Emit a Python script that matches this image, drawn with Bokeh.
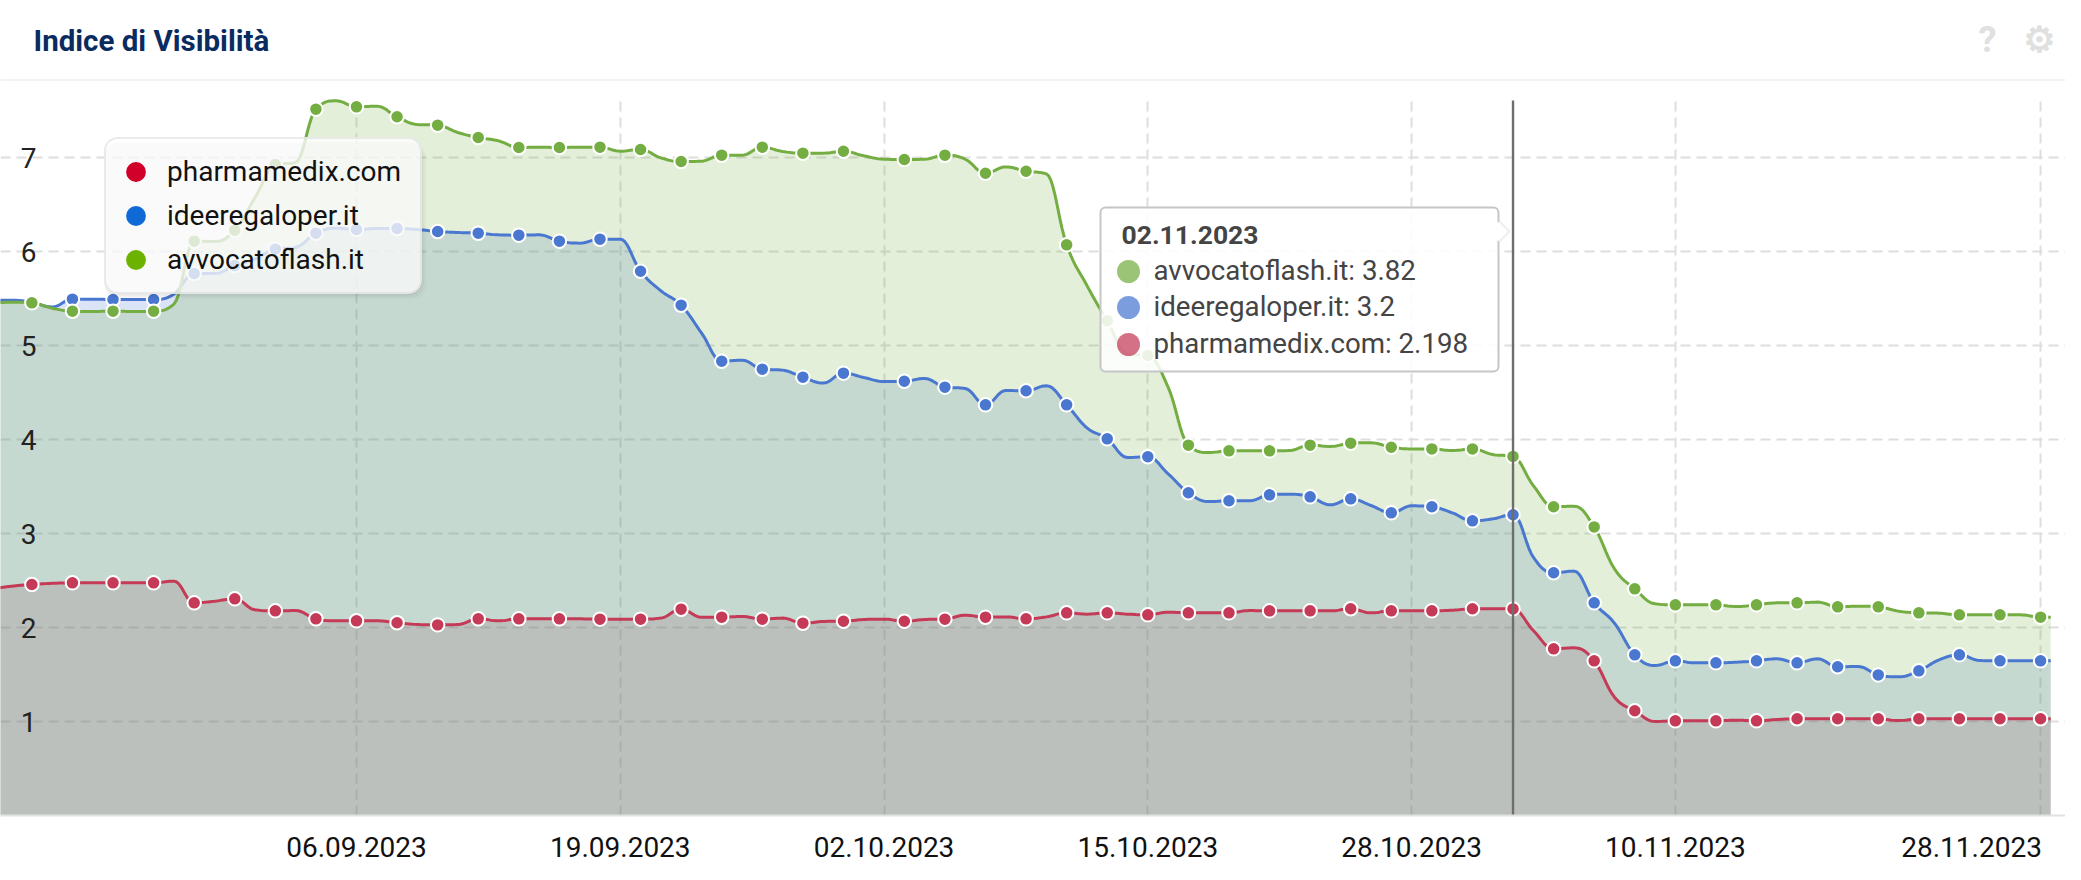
from datetime import datetime, timezone
from bokeh.plotting import figure
from bokeh.models import (BoxAnnotation, ColumnDataSource, DatetimeTickFormatter, FixedTicker, Label,
                          Legend, LegendItem, PolyAnnotation)
from bokeh.embed import file_html
from bokeh.resources import INLINE

# points that carry a marker
dates = ["19.08.2023","21.08.2023","23.08.2023","25.08.2023","27.08.2023","29.08.2023","31.08.2023",
         "02.09.2023","04.09.2023","06.09.2023","08.09.2023","10.09.2023","12.09.2023","14.09.2023","16.09.2023",
         "18.09.2023","20.09.2023","22.09.2023","24.09.2023","26.09.2023","28.09.2023","30.09.2023",
         "03.10.2023","05.10.2023","07.10.2023","09.10.2023","11.10.2023","13.10.2023","15.10.2023","17.10.2023",
         "19.10.2023","21.10.2023","23.10.2023","25.10.2023","27.10.2023","29.10.2023","31.10.2023",
         "02.11.2023","04.11.2023","06.11.2023","08.11.2023","10.11.2023","12.11.2023","14.11.2023","16.11.2023",
         "18.11.2023","20.11.2023","22.11.2023","24.11.2023","26.11.2023","28.11.2023","30.11.2023"]
avvocatoflash = [5.45,5.454,5.365,5.365,5.365,6.11,6.227,
                 6.925,7.514,7.539,7.433,7.344,7.213,7.106,7.106,7.11,7.085,6.957,7.025,7.11,7.046,7.067,
                 6.979,7.025,6.833,6.854,6.071,5.262,4.894,3.94,3.879,3.879,3.94,3.961,3.918,3.90,3.90,
                 3.82,3.284,3.07,2.411,2.241,2.241,2.241,2.262,2.22,2.22,2.156,2.135,2.135,2.11,2.10]
ideeregaloper = [5.48,5.46,5.493,5.489,5.489,5.766,5.85,
                 6.025,6.195,6.234,6.245,6.213,6.195,6.174,6.11,6.131,5.79,5.429,4.833,4.748,4.663,4.706,
                 4.62,4.557,4.369,4.518,4.369,4.007,3.816,3.433,3.348,3.411,3.39,3.369,3.22,3.284,3.135,
                 3.2,2.582,2.262,1.709,1.645,1.624,1.645,1.624,1.582,1.496,1.539,1.709,1.645,1.645,1.645]
pharmamedix = [2.41,2.457,2.475,2.475,2.475,2.262,2.305,
               2.177,2.092,2.071,2.05,2.028,2.092,2.092,2.092,2.089,2.089,2.195,2.11,2.089,2.046,2.067,
               2.067,2.089,2.11,2.092,2.156,2.156,2.135,2.156,2.156,2.177,2.177,2.199,2.177,2.177,2.199,
               2.198,1.773,1.645,1.114,1.007,1.007,1.007,1.029,1.029,1.029,1.029,1.029,1.029,1.029,1.029]
# points of the lines without a marker
between_dates = ["20.08.2023","22.08.2023","24.08.2023","26.08.2023","28.08.2023","30.08.2023",
                 "01.09.2023","03.09.2023","05.09.2023","07.09.2023","09.09.2023","11.09.2023","13.09.2023","15.09.2023",
                 "17.09.2023","19.09.2023","21.09.2023","23.09.2023","25.09.2023","27.09.2023","29.09.2023",
                 "01.10.2023","02.10.2023","04.10.2023","06.10.2023","08.10.2023","10.10.2023","12.10.2023","14.10.2023",
                 "16.10.2023","18.10.2023","20.10.2023","22.10.2023","24.10.2023","26.10.2023","28.10.2023","30.10.2023",
                 "01.11.2023","03.11.2023","05.11.2023","07.11.2023","09.11.2023","11.11.2023","13.11.2023","15.11.2023",
                 "17.11.2023","19.11.2023","21.11.2023","23.11.2023","25.11.2023","27.11.2023","29.11.2023"]
avvocatoflash_between = [5.461,5.397,5.362,5.362,5.44,6.106,
                         6.574,6.947,7.603,7.546,7.351,7.266,7.177,7.11,7.11,7.067,6.996,6.961,7.025,7.064,7.046,
                         7.018,6.982,6.982,6.982,6.90,6.826,5.638,4.91,4.557,3.862,3.879,3.883,3.926,3.965,3.90,3.883,
                         3.84,3.51,3.291,2.624,2.252,2.241,2.223,2.262,2.27,2.227,2.174,2.152,2.135,2.135,2.11]
ideeregaloper_between = [5.482,5.41,5.493,5.489,5.546,5.766,
                         5.92,6.043,6.248,6.245,6.234,6.202,6.177,6.177,6.089,6.131,5.582,5.135,4.844,4.738,4.60,
                         4.66,4.617,4.649,4.543,4.521,4.571,4.124,3.809,3.635,3.34,3.348,3.418,3.305,3.298,3.294,3.22,
                         3.156,2.748,2.60,2.046,1.596,1.624,1.631,1.667,1.667,1.585,1.475,1.656,1.649,1.645,1.645]
pharmamedix_between = [2.44,2.47,2.475,2.475,2.493,2.28,
                       2.188,2.18,2.071,2.071,2.032,2.032,2.071,2.092,2.092,2.089,2.10,2.11,2.117,2.10,2.064,
                       2.085,2.089,2.085,2.131,2.113,2.113,2.142,2.142,2.163,2.156,2.18,2.177,2.177,2.156,2.177,2.184,
                       2.20,1.968,1.784,1.259,1.0,1.007,1.014,1.021,1.029,1.029,1.01,1.029,1.029,1.029,1.029]
series_names = ["pharmamedix.com", "ideeregaloper.it", "avvocatoflash.it"]
tick_dates = ["06.09.2023","19.09.2023","02.10.2023","15.10.2023","28.10.2023","10.11.2023","28.11.2023"]
y_ticks = [1,2,3,4,5,6,7]
hover_date = "02.11.2023"
hover_rows = [("avvocatoflash.it", "3.82"), ("ideeregaloper.it", "3.2"), ("pharmamedix.com", "2.198")]

DAY = 86400000.0
def ms(s):
    return datetime.strptime(s, "%d.%m.%Y").replace(tzinfo=timezone.utc).timestamp() * 1000.0

PX_PER_DAY = 20.29
T0, PX0 = ms("06.09.2023"), 356.0
FRAME_L, FRAME_R, FRAME_T, FRAME_B = 0.0, 2065.0, 0.0, 815.0
PX_PER_UNIT = 94.0
def X(px): return T0 + (px - PX0) / PX_PER_DAY * DAY
def Y(py): return (FRAME_B - py) / PX_PER_UNIT

def spline(xs, ys, xmax, n=10):
    """Spline through the read points, ending at xmax."""
    sm, den = 1.5, 2.5
    m = len(xs)
    lc, rc = [None]*m, [None]*m
    for i in range(1, m-1):
        x, y, x0, y0, x1, y1 = xs[i], ys[i], xs[i-1], ys[i-1], xs[i+1], ys[i+1]
        lx, ly = (sm*x+x0)/den, (sm*y+y0)/den
        rx, ry = (sm*x+x1)/den, (sm*y+y1)/den
        c = (ry-ly)*(rx-x)/(rx-lx)+y-ry
        ly += c; ry += c
        if ly > y0 and ly > y: ly = max(y0, y); ry = 2*y-ly
        elif ly < y0 and ly < y: ly = min(y0, y); ry = 2*y-ly
        if ry > y1 and ry > y: ry = max(y1, y); ly = 2*y-ry
        elif ry < y1 and ry < y: ry = min(y1, y); ly = 2*y-ry
        lc[i], rc[i] = (lx, ly), (rx, ry)
    ox, oy = [], []
    for i in range(m-1):
        p0 = (xs[i], ys[i]); p3 = (xs[i+1], ys[i+1])
        p1 = rc[i] or p0; p2 = lc[i+1] or p3
        for k in range(n):
            t = k/n; u = 1-t
            bx = u**3*p0[0]+3*u*u*t*p1[0]+3*u*t*t*p2[0]+t**3*p3[0]
            by = u**3*p0[1]+3*u*u*t*p1[1]+3*u*t*t*p2[1]+t**3*p3[1]
            if bx <= xmax:
                ox.append(bx); oy.append(by)
    return ox, oy

p = figure(width=2065, height=864, output_backend="svg", toolbar_location=None,
           x_axis_type="datetime", x_range=(X(FRAME_L), X(FRAME_R)), y_range=(Y(FRAME_B), Y(FRAME_T)),
           min_border_left=0, min_border_right=0, min_border_top=0, min_border_bottom=49,
           outline_line_color=None, background_fill_color="white", border_fill_color="white")

tick_ms = [ms(d) for d in tick_dates]
# the last label sits left of its gridline so that it stays on the page
label_ms = tick_ms[:-1] + [tick_ms[-1] - 3.4*DAY]
ax = p.xaxis[0]
ax.ticker = FixedTicker(ticks=label_ms)
ax.formatter = DatetimeTickFormatter(days="%d.%m.%Y", months="%d.%m.%Y", years="%d.%m.%Y", hours="%d.%m.%Y",
                                     hourmin="%d.%m.%Y", minutes="%d.%m.%Y", minsec="%d.%m.%Y", seconds="%d.%m.%Y",
                                     milliseconds="%d.%m.%Y", microseconds="%d.%m.%Y")
ax.major_label_overrides = {int(label_ms[-1]): tick_dates[-1]}
ax.major_tick_line_color = None
ax.minor_tick_line_color = None
ax.axis_line_color = "#e2e2e2"
ax.axis_line_width = 2
ax.major_label_text_font = "Roboto"
ax.major_label_text_font_size = "28px"
ax.major_label_text_color = "#111111"
ax.major_label_standoff = 15

ay = p.yaxis[0]
ay.ticker = FixedTicker(ticks=y_ticks)
ay.major_tick_line_color = None
ay.minor_tick_line_color = None
ay.axis_line_color = None
ay.major_label_text_font = "Roboto"
ay.major_label_text_font_size = "28px"
ay.major_label_text_color = "#222222"
ay.major_label_standoff = -42

p.xgrid.ticker = FixedTicker(ticks=tick_ms)
p.ygrid.ticker = FixedTicker(ticks=y_ticks)
for g in (p.xgrid, p.ygrid):
    g.grid_line_color = "#dedede"
    g.grid_line_width = 2
    g.grid_line_dash = "10 6"

def box(l, r, t, b, **kw):
    return BoxAnnotation(left=X(l), right=X(r), top=Y(t), bottom=Y(b), **kw)

# header band: keeps the vertical gridlines below it
p.add_layout(box(0, 2065, 0, 99.5, fill_color="white", fill_alpha=1, line_color=None, level="underlay"))

xs_ms = [ms(d) for d in dates]
x_end = X(2052)
colors = {"pharmamedix.com": "#c43a57", "ideeregaloper.it": "#4a77d0", "avvocatoflash.it": "#74ad42"}
fills = {"pharmamedix.com": "#b0405a", "ideeregaloper.it": "#4a77d0", "avvocatoflash.it": "#74ad42"}
values = {"pharmamedix.com": pharmamedix, "ideeregaloper.it": ideeregaloper, "avvocatoflash.it": avvocatoflash}
between = {"pharmamedix.com": pharmamedix_between, "ideeregaloper.it": ideeregaloper_between,
           "avvocatoflash.it": avvocatoflash_between}
curves = {}
for name in series_names:
    knots = sorted(list(zip(xs_ms, values[name])) + list(zip([ms(d) for d in between_dates], between[name])))
    curves[name] = spline([k[0] for k in knots], [k[1] for k in knots], x_end)
for name in series_names:
    sx, sy = curves[name]
    src = ColumnDataSource(dict(x=sx, y=sy, z=[0]*len(sx)))
    p.varea(x="x", y1="z", y2="y", source=src, fill_color=fills[name], fill_alpha=0.2)
for name in series_names:
    c = colors[name]
    sx, sy = curves[name]
    p.line(sx, sy, line_color=c, line_width=3)
    p.scatter(xs_ms, values[name], size=13.5, fill_color=c, line_color="white", line_width=2)

p.segment([ms(hover_date)], [0], [ms(hover_date)], [Y(100)], line_color="#6e6e6e", line_width=2.4, level="guide")

p.add_layout(box(0, 2065, 78.5, 80.5, fill_color="#f2f2f2", fill_alpha=1, line_color=None))

def label(px, py, text, size, color, font="Roboto", style="normal", align="left", level="annotation", **kw):
    return Label(x=X(px), y=Y(py), text=text, text_font=font, text_font_size=size, text_color=color,
                 text_font_style=style, text_align=align, text_baseline="middle", level=level, **kw)

p.add_layout(label(33, 40, "Indice di Visibilità", "29.5px", "#0a2b5f", style="bold"))
p.add_layout(label(1987, 39, "?", "36px", "#e0e0e0", style="bold", align="center"))
p.add_layout(label(2039, 39, "\u2699", "36px", "#e0e0e0", font="DejaVu Sans", align="center",
                   text_outline_color="#e0e0e0"))

# legend with its own colours; its marker renderers sit left of the visible range
legend_colors = {"pharmamedix.com": "#d0002a", "ideeregaloper.it": "#0f69d6", "avvocatoflash.it": "#6bb300"}
items = []
for name in series_names:
    r = p.scatter([X(-200)], [1], size=16, fill_color=legend_colors[name], line_color=legend_colors[name], line_width=5)
    items.append(LegendItem(label=name, renderers=[r]))
for off, a in ((6, 0.02), (4, 0.03), (2, 0.04)):
    p.add_layout(box(104, 420+off, 140+off//2, 293+off, fill_color="#000000", fill_alpha=a, line_color=None, border_radius=14))
legend = Legend(items=items, location=(104, 521), orientation="vertical",
                background_fill_color="white", background_fill_alpha=0.78,
                border_line_color="#d8d8d8", border_line_width=2,
                padding=11, margin=0, spacing=1, glyph_width=37, glyph_height=43, label_standoff=13, label_width=242,
                label_height=43, label_text_font="Roboto", label_text_font_size="28px", label_text_color="#111111")
if "border_radius" in Legend.properties():
    legend.border_radius = 14
p.add_layout(legend)

# tooltip
p.add_layout(box(1100, 1498, 207, 371, fill_color="white", fill_alpha=0.86, line_color="#c6c6c6", line_alpha=1,
                 line_width=2, border_radius=5))
p.add_layout(PolyAnnotation(xs=[X(1498), X(1509), X(1498)], ys=[Y(220), Y(231), Y(242)],
                            fill_color="white", fill_alpha=1, line_color="#c6c6c6", line_width=2))
p.add_layout(box(1496, 1499.5, 222, 240, fill_color="white", fill_alpha=1, line_color=None))
p.add_layout(label(1121, 234, hover_date, "26.5px", "#444444", style="bold", level="overlay"))
row_y = [271, 307, 344]
for (nm, val), yy in zip(hover_rows, row_y):
    p.scatter([X(1128)], [Y(yy)], size=23, fill_color=colors[nm], fill_alpha=0.72, line_color=None, level="overlay")
    p.add_layout(label(1153, yy - 1, f"{nm}: {val}", "27.7px", "#444444", level="overlay"))

open("out.html", "w").write(file_html(p, INLINE))
